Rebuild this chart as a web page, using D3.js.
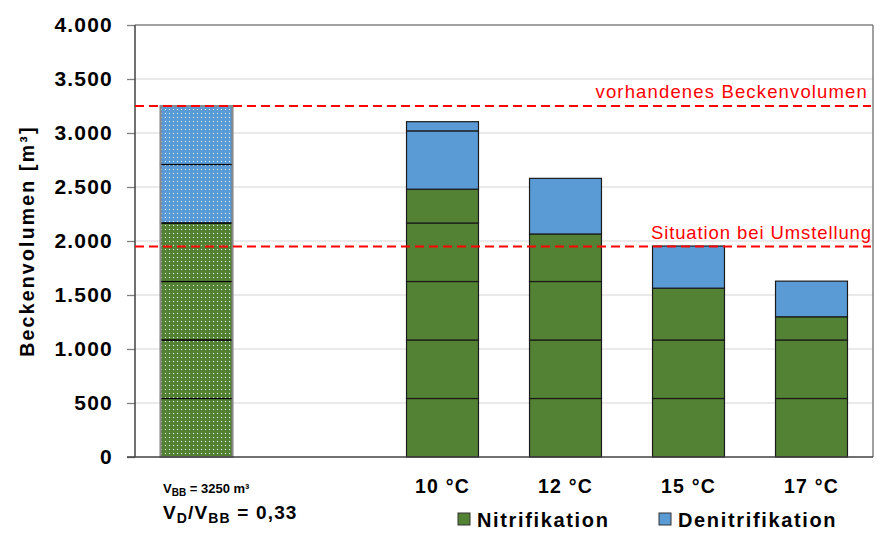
<!DOCTYPE html>
<html><head><meta charset="utf-8">
<script src="https://cdn.jsdelivr.net/npm/d3@7"></script>
<style>body{margin:0;background:#fff}svg{display:block;font-family:"Liberation Sans",Arial,sans-serif}</style>
</head><body><svg id="c" width="890" height="545"></svg>
<script>
const categories = ["ref", "gap", "10 °C", "12 °C", "15 °C", "17 °C"];
const xLabels = ["", "", "10 °C", "12 °C", "15 °C", "17 °C"];
// stacked segments per bar (m³)
const nitrifikation = [
  [541.67, 541.67, 541.67, 541.67],
  [],
  [541.67, 541.67, 541.67, 541.67, 313],
  [541.67, 541.67, 541.67, 440],
  [541.67, 541.67, 480],
  [541.67, 541.67, 215]
];
const denitrifikation = [
  [541.67, 541.67],
  [],
  [540, 85],
  [515],
  [390],
  [330]
];
const patterned = [true, false, false, false, false, false];
const yTicks = [0, 500, 1000, 1500, 2000, 2500, 3000, 3500, 4000];
const refLines = [
  {value: 3250, label: "vorhandenes Beckenvolumen"},
  {value: 1950, label: "Situation bei Umstellung"}
];
const legendItems = ["Nitrifikation", "Denitrifikation"];

const green = "#548235", blue = "#5b9bd5";
const svg = d3.select("#c");
const L = 135, R = 873, T = 25, B = 457;
const x = d3.scaleBand().domain(categories).range([L, R]).paddingInner(0.415).paddingOuter(0.2075);
const y = d3.scaleLinear().domain([0, 4000]).range([B, T]);

const defs = svg.append("defs");
[["pg", green], ["pb", blue]].forEach(([id, col]) => {
  const p = defs.append("pattern").attr("id", id).attr("patternUnits", "userSpaceOnUse")
    .attr("width", 4).attr("height", 4);
  p.append("rect").attr("width", 4).attr("height", 4).attr("fill", col);
  p.append("rect").attr("x", 1).attr("y", 1).attr("width", 1).attr("height", 1).attr("fill", "#fff");
});

svg.append("g").selectAll("line").data(yTicks.filter(d => d > 0)).join("line")
  .attr("x1", L).attr("x2", R).attr("y1", d => y(d)).attr("y2", d => y(d))
  .attr("stroke", d => d === 4000 ? "#808080" : "#e3e3e3").attr("stroke-width", 1.3);
svg.append("line").attr("x1", R).attr("x2", R).attr("y1", T).attr("y2", B).attr("stroke", "#808080").attr("stroke-width", 1.5);

categories.forEach((c, i) => {
  const g = svg.append("g");
  let acc = 0;
  const segs = [];
  nitrifikation[i].forEach(v => { segs.push({y0: acc, y1: acc + v, t: "n"}); acc += v; });
  denitrifikation[i].forEach(v => { segs.push({y0: acc, y1: acc + v, t: "d"}); acc += v; });
  g.selectAll("rect").data(segs).join("rect")
    .attr("x", x(c)).attr("width", x.bandwidth())
    .attr("y", d => y(d.y1)).attr("height", d => y(d.y0) - y(d.y1))
    .attr("fill", d => patterned[i] ? (d.t === "n" ? "url(#pg)" : "url(#pb)") : (d.t === "n" ? green : blue))
    .attr("stroke", "#1a1a1a").attr("stroke-width", 1.2);
  if (patterned[i] && segs.length) {
    g.append("rect").attr("x", x(c)).attr("width", x.bandwidth())
      .attr("y", y(acc)).attr("height", y(0) - y(acc))
      .attr("fill", "none").attr("stroke", "#8a8a8a").attr("stroke-width", 2);
    g.selectAll("line.sep").data(segs.slice(1)).join("line").attr("class", "sep")
      .attr("x1", x(c) + 1).attr("x2", x(c) + x.bandwidth() - 1)
      .attr("y1", d => y(d.y0)).attr("y2", d => y(d.y0)).attr("stroke", "#000").attr("stroke-width", 1.2);
  }
});

const ya = svg.append("g").attr("transform", `translate(${L},0)`)
  .call(d3.axisLeft(y).tickValues(yTicks).tickSize(8).tickPadding(14)
    .tickFormat(d => d3.format(",")(d).replace(/,/g, ".")));
ya.attr("font-family", null).attr("font-size", null);
ya.select(".domain").remove();
ya.selectAll(".tick line").attr("stroke", "#808080").attr("stroke-width", 1.3);
ya.selectAll(".tick text").attr("font-size", 21).attr("font-weight", "bold").attr("fill", "#000")
  .style("letter-spacing", "1.2px");
svg.append("line").attr("x1", L).attr("x2", L).attr("y1", T).attr("y2", B).attr("stroke", "#404040").attr("stroke-width", 1.5);
svg.append("line").attr("x1", L - 8).attr("x2", R).attr("y1", B).attr("y2", B).attr("stroke", "#404040").attr("stroke-width", 1.5);

refLines.forEach(r => {
  svg.append("line").attr("x1", L).attr("x2", R - 2).attr("y1", y(r.value)).attr("y2", y(r.value))
    .attr("stroke", "#ff0000").attr("stroke-width", 2).attr("stroke-dasharray", "9,5");
});
svg.append("text").attr("x", 868).attr("y", y(refLines[0].value) - 8).attr("text-anchor", "end")
  .attr("font-size", 18.5).attr("fill", "#ff0000").style("letter-spacing", "1.15px").text(refLines[0].label);
svg.append("text").attr("x", 872).attr("y", y(refLines[1].value) - 7).attr("text-anchor", "end")
  .attr("font-size", 18.5).attr("fill", "#ff0000").style("letter-spacing", "0.9px").text(refLines[1].label);

svg.append("text").attr("transform", "translate(34,241) rotate(-90)").attr("text-anchor", "middle")
  .attr("font-size", 19.5).attr("font-weight", "bold").style("letter-spacing", "2.2px").text("Beckenvolumen [m³]");

svg.append("g").selectAll("text").data(categories.filter((c, i) => xLabels[i])).join("text")
  .attr("x", c => x(c) + x.bandwidth() / 2).attr("y", 493).attr("text-anchor", "middle")
  .attr("font-size", 19.5).attr("font-weight", "bold").style("letter-spacing", "1.2px")
  .text((c) => xLabels[categories.indexOf(c)]);

const t1 = svg.append("text").attr("x", 163).attr("y", 493).attr("font-size", 13).attr("font-weight", "bold");
t1.append("tspan").text("V");
t1.append("tspan").attr("font-size", 10).attr("dy", 3).text("BB");
t1.append("tspan").attr("dy", -3).text(" = 3250 m³");
const t2 = svg.append("text").attr("x", 163).attr("y", 519).attr("font-size", 19).attr("font-weight", "bold")
  .style("letter-spacing", "1.15px");
t2.append("tspan").text("V");
t2.append("tspan").attr("font-size", 14).attr("dy", 4).text("D");
t2.append("tspan").attr("dy", -4).text("/V");
t2.append("tspan").attr("font-size", 14).attr("dy", 4).text("BB");
t2.append("tspan").attr("dy", -4).text(" = 0,33");

const lg = [{x: 458, col: green, t: legendItems[0]}, {x: 659, col: blue, t: legendItems[1]}];
lg.forEach(d => {
  svg.append("rect").attr("x", d.x).attr("y", 513).attr("width", 12).attr("height", 12)
    .attr("fill", d.col).attr("stroke", "#333").attr("stroke-width", 1);
  svg.append("text").attr("x", d.x + 19).attr("y", 527).attr("font-size", 20).attr("font-weight", "bold")
    .style("letter-spacing", "1.65px").text(d.t);
});
</script></body></html>
